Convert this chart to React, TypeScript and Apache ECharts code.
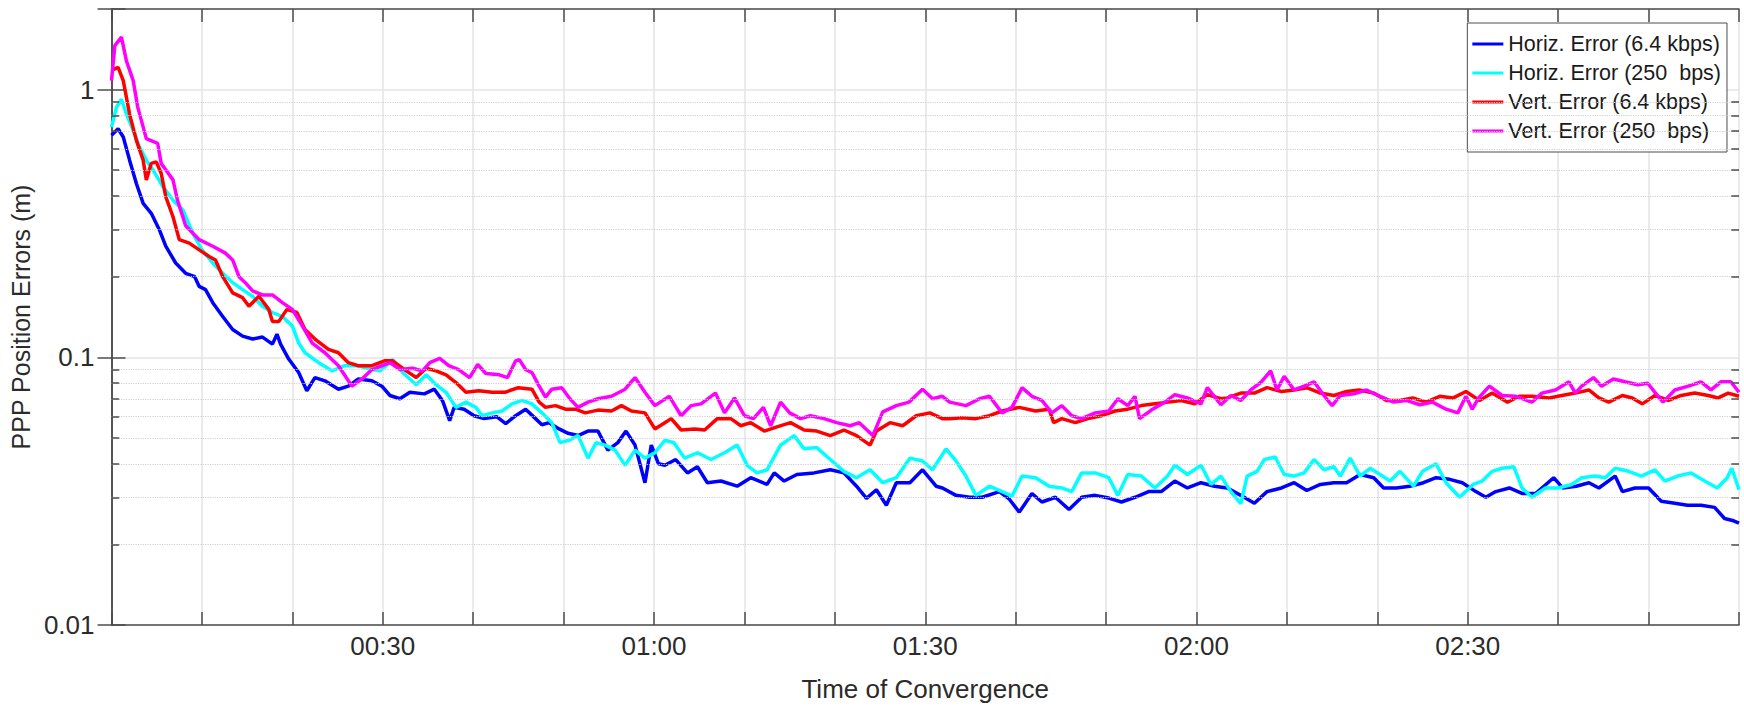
import React, { useEffect, useRef } from "react";
import * as echarts from "echarts";

const xTickValues = [30, 60, 90, 120, 150];
const xTickLabels = ["00:30", "01:00", "01:30", "02:00", "02:30"];
const yTickValues = [0.01, 0.1, 1];
const yTickLabels = ["0.01", "0.1", "1"];
const yMinorValues = [0.02, 0.03, 0.04, 0.05, 0.06, 0.07, 0.08, 0.09, 0.2, 0.3, 0.4, 0.5, 0.6, 0.7, 0.8, 0.9];

const seriesNames = [
  "Horiz. Error (6.4 kbps)",
  "Horiz. Error (250  bps)",
  "Vert. Error (6.4 kbps)",
  "Vert. Error (250  bps)",
];
const seriesColors = ["#0000ff", "#00ffff", "#ff0000", "#ff00ff"];

// [minutes, metres]
const horizHigh: [number, number][] = [
  [0, 0.675], [0.73, 0.714], [1.3, 0.665], [2.0, 0.545], [2.75, 0.446], [3.5, 0.376], [4.4, 0.345], [5.3, 0.299],
  [6.0, 0.26], [7.1, 0.225], [8.2, 0.206], [9.2, 0.2], [9.7, 0.184], [10.4, 0.179], [11.2, 0.16], [12.3, 0.142],
  [13.4, 0.127], [14.5, 0.12], [15.6, 0.117], [16.7, 0.119], [17.8, 0.112], [18.3, 0.122], [18.7, 0.112], [19.6, 0.0985],
  [20.7, 0.0877], [21.6, 0.075], [22.5, 0.084], [23.6, 0.0817], [25.1, 0.076], [26.2, 0.078], [27.3, 0.083], [28.8, 0.0817],
  [29.9, 0.078], [30.8, 0.072], [31.9, 0.07], [33, 0.074], [34.6, 0.073], [35.7, 0.076], [36.6, 0.069], [37.4, 0.058],
  [37.9, 0.065], [39, 0.064], [40.1, 0.0605], [41.2, 0.059], [42.6, 0.06], [43.6, 0.0565], [44.7, 0.0605], [45.8, 0.064],
  [46.9, 0.059], [47.6, 0.056], [48.4, 0.057], [49.5, 0.054], [50.5, 0.052], [51.6, 0.051], [52.7, 0.053], [53.8, 0.053],
  [54.9, 0.045], [56, 0.048], [56.9, 0.053], [57.9, 0.047], [59, 0.034], [59.7, 0.047], [60.5, 0.04], [61.2, 0.0395],
  [62.4, 0.0415], [63.7, 0.037], [64.8, 0.039], [65.9, 0.034], [67.4, 0.0345], [69.2, 0.033], [70.7, 0.0355], [72.5, 0.0335],
  [73.3, 0.037], [74.4, 0.0345], [75.8, 0.0365], [77.7, 0.037], [79.5, 0.038], [81, 0.037], [82.4, 0.033], [83.5, 0.0297],
  [84.6, 0.032], [85.7, 0.028], [86.8, 0.034], [88.3, 0.034], [89.7, 0.038], [91.2, 0.033], [91.9, 0.0325], [93.4, 0.0305],
  [94.9, 0.03], [96.3, 0.03], [98.2, 0.0315], [99.3, 0.0295], [100.4, 0.0264], [101.8, 0.031], [102.9, 0.0288], [104.4, 0.03],
  [105.9, 0.027], [107.3, 0.03], [108.8, 0.0305], [110.3, 0.0298], [111.7, 0.0288], [113.2, 0.03], [114.7, 0.0315], [116.1, 0.0315],
  [117.6, 0.0345], [119, 0.0325], [120.5, 0.034], [122, 0.033], [123.4, 0.0325], [124.9, 0.0305], [126.4, 0.0285], [127.8, 0.0315],
  [129.4, 0.0325], [130.8, 0.034], [132.2, 0.0318], [133.7, 0.0335], [135.2, 0.034], [136.6, 0.034], [138.1, 0.0365], [139.6, 0.0355],
  [140.7, 0.0325], [142.1, 0.0325], [143.6, 0.033], [145.1, 0.034], [146.5, 0.0355], [148, 0.035], [149.4, 0.034], [150.9, 0.0315],
  [152, 0.03], [153.1, 0.0315], [154.6, 0.0325], [156, 0.031], [157.5, 0.031], [159.5, 0.0355], [160.5, 0.0325], [162, 0.033],
  [163.4, 0.034], [164.5, 0.0325], [166.3, 0.036], [167.1, 0.0315], [168.5, 0.0325], [170, 0.0325], [171.4, 0.029], [172.9, 0.0285],
  [174.3, 0.028], [175.8, 0.028], [177.3, 0.0275], [178.4, 0.025], [179.4, 0.0245], [180, 0.024],
];

const horizLow: [number, number][] = [
  [0, 0.724], [0.55, 0.86], [1.1, 0.92], [1.65, 0.81], [2.4, 0.705], [3.1, 0.61], [3.85, 0.545], [4.6, 0.5],
  [5.7, 0.433], [6.8, 0.386], [7.9, 0.355], [9, 0.29], [10, 0.252], [11.2, 0.225], [12.3, 0.206], [13.4, 0.19],
  [14.5, 0.179], [15.6, 0.169], [16.7, 0.155], [17.8, 0.147], [18.9, 0.142], [20, 0.131], [20.7, 0.113], [21.4, 0.104],
  [22.9, 0.0955], [24.4, 0.089], [25.8, 0.093], [27.3, 0.093], [28.8, 0.09], [29.7, 0.089], [31.1, 0.098], [32.2, 0.0877],
  [33.7, 0.079], [34.8, 0.086], [35.9, 0.079], [37, 0.074], [38.1, 0.065], [39.2, 0.068], [40.3, 0.065], [41, 0.0605],
  [42.1, 0.062], [43.2, 0.063], [44.3, 0.067], [45.4, 0.069], [46.5, 0.067], [47.6, 0.062], [48.7, 0.057], [49.6, 0.048],
  [50.6, 0.049], [51.6, 0.051], [52.7, 0.042], [53.6, 0.048], [54.6, 0.047], [55.7, 0.045], [56.8, 0.0395], [57.9, 0.045],
  [59, 0.042], [60.1, 0.044], [61.2, 0.049], [62.2, 0.048], [63.4, 0.042], [64.8, 0.044], [66.3, 0.0415], [67.8, 0.044],
  [69.2, 0.047], [70.3, 0.0395], [71.4, 0.037], [72.5, 0.038], [74, 0.047], [75.5, 0.051], [76.6, 0.0455], [78, 0.046],
  [79.5, 0.0415], [81, 0.0375], [82.4, 0.0355], [83.9, 0.038], [85.3, 0.034], [86.8, 0.0355], [88.3, 0.042], [89.7, 0.041],
  [90.8, 0.038], [92.3, 0.0455], [93.4, 0.041], [94.5, 0.036], [95.6, 0.0305], [97.1, 0.033], [98.5, 0.0315], [99.6, 0.0303],
  [100.7, 0.036], [102.2, 0.0355], [103.7, 0.033], [105.1, 0.0325], [106.2, 0.0315], [107.3, 0.037], [108.8, 0.037], [110.3, 0.0355],
  [111.3, 0.0305], [112.4, 0.0365], [113.9, 0.036], [115.4, 0.0325], [116.8, 0.036], [117.6, 0.0395], [119, 0.0365], [120.5, 0.0395],
  [121.6, 0.0335], [122.7, 0.036], [123.8, 0.0315], [124.9, 0.0284], [125.6, 0.036], [126.7, 0.0375], [127.5, 0.0415], [128.7, 0.0424],
  [129.7, 0.0365], [130.8, 0.036], [131.9, 0.037], [133, 0.0415], [134.1, 0.038], [135.2, 0.039], [135.9, 0.036], [137, 0.042],
  [138.1, 0.036], [139.2, 0.0385], [140.3, 0.0365], [141.4, 0.0345], [142.5, 0.0375], [144, 0.033], [145, 0.0375], [146.5, 0.04],
  [147.6, 0.034], [149.1, 0.03], [150.6, 0.0335], [151.6, 0.0345], [152.7, 0.0375], [153.8, 0.0385], [155.1, 0.039], [156, 0.0325],
  [157.1, 0.03], [158.6, 0.0325], [160, 0.0325], [161.5, 0.0335], [162.6, 0.0355], [164.1, 0.036], [165.2, 0.0355], [166.3, 0.0385],
  [167.8, 0.0375], [169.2, 0.036], [170.7, 0.038], [171.8, 0.0345], [173.2, 0.036], [174.7, 0.037], [176.2, 0.0345], [177.6, 0.0325],
  [178.7, 0.0355], [179.2, 0.0385], [180, 0.032],
];

const vertHigh: [number, number][] = [
  [0, 1.18], [0.73, 1.21], [1.3, 1.08], [2.0, 0.81], [2.75, 0.646], [3.5, 0.545], [3.85, 0.46], [4.4, 0.53],
  [4.95, 0.537], [5.5, 0.486], [6.0, 0.398], [6.8, 0.335], [7.5, 0.275], [8.6, 0.267], [9.7, 0.252], [10.8, 0.238],
  [11.5, 0.231], [12.3, 0.2], [13.4, 0.174], [14.5, 0.167], [15.2, 0.155], [16.3, 0.169], [17.4, 0.151], [17.8, 0.136],
  [18.5, 0.136], [19.4, 0.151], [20.5, 0.147], [21.4, 0.127], [22.5, 0.117], [24, 0.107], [25.1, 0.104], [26.2, 0.0955],
  [27.3, 0.093], [28.8, 0.093], [30.2, 0.097], [31.1, 0.097], [32.6, 0.089], [33.7, 0.084], [34.8, 0.091], [35.9, 0.089],
  [37, 0.086], [38.1, 0.0805], [39.2, 0.074], [40.6, 0.075], [42.1, 0.074], [43.5, 0.074], [45, 0.077], [46.5, 0.076],
  [47.3, 0.068], [48, 0.065], [49.1, 0.066], [50.2, 0.064], [51.3, 0.064], [52.4, 0.062], [53.8, 0.0635], [55.3, 0.063],
  [56.4, 0.066], [57.5, 0.063], [59, 0.062], [60.1, 0.054], [61.2, 0.057], [61.9, 0.059], [63, 0.0535], [64.5, 0.054],
  [65.6, 0.0535], [67, 0.059], [68.5, 0.059], [69.6, 0.0555], [70.7, 0.057], [72.2, 0.053], [73.6, 0.055], [75.1, 0.057],
  [76.6, 0.0535], [78, 0.053], [79.5, 0.051], [81, 0.0535], [82.4, 0.051], [83.9, 0.047], [84.6, 0.053], [86.1, 0.057],
  [87.5, 0.0555], [89, 0.0605], [90.5, 0.062], [91.9, 0.059], [92.7, 0.059], [94.1, 0.0595], [95.6, 0.059], [97.1, 0.0605],
  [98.5, 0.063], [100.4, 0.065], [102.2, 0.063], [103.7, 0.064], [104.2, 0.057], [105.1, 0.059], [106.6, 0.057], [108, 0.059],
  [109.5, 0.0605], [111, 0.063], [112.4, 0.064], [113.9, 0.066], [115.4, 0.067], [116.9, 0.068], [118.3, 0.069], [119.8, 0.067],
  [121.2, 0.0725], [122.7, 0.07], [123.4, 0.0705], [124.9, 0.0735], [126.4, 0.0735], [127.8, 0.077], [129.4, 0.0745], [130.8, 0.0755],
  [132.2, 0.077], [133.7, 0.0735], [135.2, 0.072], [136.6, 0.0745], [138, 0.0755], [139.6, 0.0735], [141, 0.069], [142.5, 0.069],
  [143.9, 0.0705], [145.4, 0.068], [146.9, 0.0715], [148.4, 0.0705], [149.8, 0.0745], [151.3, 0.069], [152.7, 0.0735], [154.4, 0.068],
  [155.7, 0.0715], [157.1, 0.0715], [159, 0.0705], [160.4, 0.072], [161.9, 0.0735], [163.4, 0.0755], [164.5, 0.0705], [165.6, 0.068],
  [167.1, 0.072], [168.2, 0.0705], [169.3, 0.067], [170.7, 0.072], [172.2, 0.069], [173.6, 0.072], [175.1, 0.0735], [176.6, 0.072],
  [177.7, 0.0705], [178.8, 0.0735], [180, 0.0715],
];

const vertLow: [number, number][] = [
  [0, 1.08], [0.37, 1.46], [1.1, 1.57], [1.65, 1.28], [2.4, 1.08], [2.9, 0.86], [3.85, 0.656], [5.1, 0.63],
  [5.5, 0.53], [6.8, 0.46], [7.3, 0.386], [8.2, 0.31], [9.7, 0.275], [11.2, 0.26], [12.6, 0.245], [13.4, 0.231],
  [14.1, 0.2], [14.8, 0.19], [15.6, 0.177], [16.7, 0.171], [17.8, 0.171], [18.9, 0.16], [20, 0.151], [21.1, 0.131],
  [22.2, 0.113], [23.6, 0.104], [25.1, 0.093], [26.6, 0.078], [27.7, 0.083], [28.8, 0.09], [30.8, 0.0955], [31.9, 0.09],
  [33.3, 0.091], [34.4, 0.089], [35.2, 0.0955], [36.3, 0.099], [37.3, 0.093], [38.4, 0.09], [39.6, 0.084], [40.5, 0.094],
  [41.4, 0.087], [42.9, 0.086], [43.8, 0.084], [44.7, 0.097], [45.1, 0.098], [45.8, 0.09], [46.5, 0.0877], [47.3, 0.078],
  [48, 0.071], [48.7, 0.076], [49.8, 0.077], [50.7, 0.07], [51.6, 0.065], [52.7, 0.068], [53.8, 0.07], [55.3, 0.0715],
  [56.8, 0.076], [57.9, 0.084], [59, 0.074], [60.1, 0.066], [61.7, 0.0715], [63, 0.0605], [64.1, 0.066], [65.2, 0.067],
  [66.8, 0.0735], [67.8, 0.062], [68.9, 0.0705], [70, 0.0605], [71, 0.059], [72.1, 0.065], [72.9, 0.0555], [74, 0.068],
  [75, 0.062], [76.2, 0.059], [77.3, 0.0605], [78.8, 0.059], [80.2, 0.057], [81.7, 0.0555], [82.7, 0.057], [84.2, 0.051],
  [85.3, 0.0625], [86.8, 0.066], [88.2, 0.068], [89.7, 0.076], [90.8, 0.07], [91.9, 0.0715], [92.7, 0.068], [94.5, 0.066],
  [96, 0.07], [97.1, 0.0715], [98.5, 0.062], [99.6, 0.065], [100.7, 0.077], [101.8, 0.0715], [102.9, 0.069], [104, 0.062],
  [105.1, 0.066], [106.2, 0.0605], [107.3, 0.059], [108.8, 0.062], [110.3, 0.063], [111.3, 0.07], [112.4, 0.066], [113.2, 0.0715],
  [113.7, 0.059], [115, 0.0635], [116.5, 0.068], [117.6, 0.0725], [119, 0.0705], [120.5, 0.067], [121.2, 0.077], [122.7, 0.0665],
  [123.8, 0.072], [124.9, 0.069], [126, 0.0755], [127.1, 0.0805], [128.2, 0.089], [128.9, 0.0755], [129.7, 0.085], [130.8, 0.0755],
  [131.9, 0.078], [133, 0.081], [134.1, 0.072], [135, 0.066], [135.9, 0.072], [137.4, 0.073], [138.8, 0.0755], [140.3, 0.0715],
  [141.8, 0.068], [143.2, 0.069], [144.7, 0.0665], [146.1, 0.068], [147.6, 0.064], [148.9, 0.062], [149.8, 0.0715], [150.5, 0.064],
  [151.2, 0.0705], [152.4, 0.078], [153.8, 0.072], [155.3, 0.0715], [157.1, 0.068], [158.2, 0.0735], [159.7, 0.0755], [161.2, 0.081],
  [161.9, 0.0735], [162.6, 0.078], [163.9, 0.084], [164.8, 0.078], [166.1, 0.083], [167.4, 0.081], [168.8, 0.079], [169.9, 0.08],
  [170.7, 0.074], [171.6, 0.068], [172.9, 0.0755], [174.4, 0.078], [175.8, 0.081], [176.9, 0.0755], [178, 0.081], [179.1, 0.081],
  [180, 0.074],
];

const seriesData = [horizHigh, horizLow, vertHigh, vertLow];

const FONT = "'Liberation Sans', Arial, Helvetica, sans-serif";
const AXIS_COLOR = "#4d4d4d";
const TEXT_COLOR = "#2b2b2b";
const GRID_COLOR = "#e4e4e4";

function xLabel(v: number): string {
  const i = xTickValues.findIndex((t) => Math.abs(t - v) < 1e-6);
  return i >= 0 ? xTickLabels[i] : "";
}
function yLabel(v: number): string {
  const i = yTickValues.findIndex((t) => Math.abs(t - v) / t < 1e-6);
  return i >= 0 ? yTickLabels[i] : "";
}

export default function App() {
  const ref = useRef<HTMLDivElement>(null);
  useEffect(() => {
    document.body.style.margin = "0";
    if (!ref.current) return;
    const chart = echarts.init(ref.current, undefined, { renderer: "svg" });
    const axisLineStyle = { color: AXIS_COLOR, width: 1.5 };
    const option: any = {
      animation: false,
      backgroundColor: "#ffffff",
      textStyle: { fontFamily: FONT },
      grid: { left: 100, right: 5, top: 9, bottom: 80, containLabel: false },
      legend: {
        data: seriesNames,
        orient: "vertical",
        align: "left",
        right: 17,
        top: 23,
        backgroundColor: "#ffffff",
        borderColor: AXIS_COLOR,
        borderWidth: 1,
        padding: [10, 6, 10, 5],
        itemGap: 7,
        itemWidth: 31,
        itemHeight: 3,
        icon: "rect",
        selectedMode: false,
        textStyle: { fontSize: 21.5, color: "#1a1a1a", lineHeight: 22, fontFamily: FONT, padding: [0, 0, 0, 0] },
      },
      xAxis: [
        {
          type: "value",
          min: 0,
          max: 180,
          interval: 10,
          position: "bottom",
          axisLine: { show: true, lineStyle: axisLineStyle },
          axisTick: { show: true, inside: true, length: 13, lineStyle: axisLineStyle },
          axisLabel: { formatter: xLabel, fontSize: 26, color: TEXT_COLOR, margin: 8, fontFamily: FONT },
          splitLine: { show: true, lineStyle: { color: GRID_COLOR, width: 1.5 } },
          name: "Time of Convergence",
          nameLocation: "middle",
          nameGap: 51,
          nameTextStyle: { fontSize: 26, color: TEXT_COLOR, fontFamily: FONT },
        },
        {
          type: "value",
          min: 0,
          max: 180,
          interval: 10,
          position: "top",
          axisLine: { show: true, lineStyle: axisLineStyle },
          axisTick: { show: true, inside: true, length: 13, lineStyle: axisLineStyle },
          axisLabel: { show: false },
          splitLine: { show: false },
        },
      ],
      yAxis: [
        {
          type: "log",
          logBase: 10,
          min: 0.01,
          max: 2,
          position: "left",
          axisLine: { show: true, lineStyle: axisLineStyle },
          axisTick: { show: true, inside: true, length: 14, lineStyle: axisLineStyle },
          axisLabel: { formatter: yLabel, fontSize: 26, color: TEXT_COLOR, margin: 17, fontFamily: FONT },
          splitLine: { show: true, lineStyle: { color: GRID_COLOR, width: 1.5 } },
          name: "PPP Position Errors (m)",
          nameLocation: "middle",
          nameGap: 57,
          nameTextStyle: { fontSize: 25, color: TEXT_COLOR, fontFamily: FONT },
        },
        {
          type: "log",
          logBase: 10,
          min: 0.01,
          max: 2,
          position: "right",
          axisLine: { show: true, lineStyle: axisLineStyle },
          axisTick: { show: true, inside: true, length: 14, lineStyle: axisLineStyle },
          axisLabel: { show: false },
          splitLine: { show: false },
        },
      ],
      series: [
        {
          type: "line",
          name: "_minorGrid",
          data: [[0, 0.01]],
          showSymbol: false,
          symbol: "none",
          silent: true,
          z: 1,
          lineStyle: { opacity: 0 },
          markLine: {
            silent: true,
            symbol: ["none", "none"],
            label: { show: false },
            lineStyle: { type: "dotted", color: "#cfcfcf", width: 1.2 },
            data: yMinorValues.map((v) => ({ yAxis: v })),
          },
        },
        {
          type: "line",
          name: "_minorTicks",
          data: [[0, 0.01]],
          showSymbol: false,
          symbol: "none",
          silent: true,
          z: 3,
          lineStyle: { opacity: 0 },
          markLine: {
            silent: true,
            symbol: ["none", "none"],
            label: { show: false },
            lineStyle: { type: "solid", color: AXIS_COLOR, width: 1.5 },
            data: yMinorValues.flatMap((v) => [
              [{ coord: [0, v] }, { coord: [0.85, v] }],
              [{ coord: [179.15, v] }, { coord: [180, v] }],
            ]),
          },
        },
        ...seriesNames.map((name, i) => ({
          type: "line",
          name,
          data: seriesData[i],
          showSymbol: false,
          symbol: "none",
          color: seriesColors[i],
          lineStyle: { width: 3.5, color: seriesColors[i] },
          z: 2,
          clip: true,
        })),
      ],
    };
    chart.setOption(option);
    return () => chart.dispose();
  }, []);
  return <div ref={ref} style={{ width: 1744, height: 707 }} />;
}
